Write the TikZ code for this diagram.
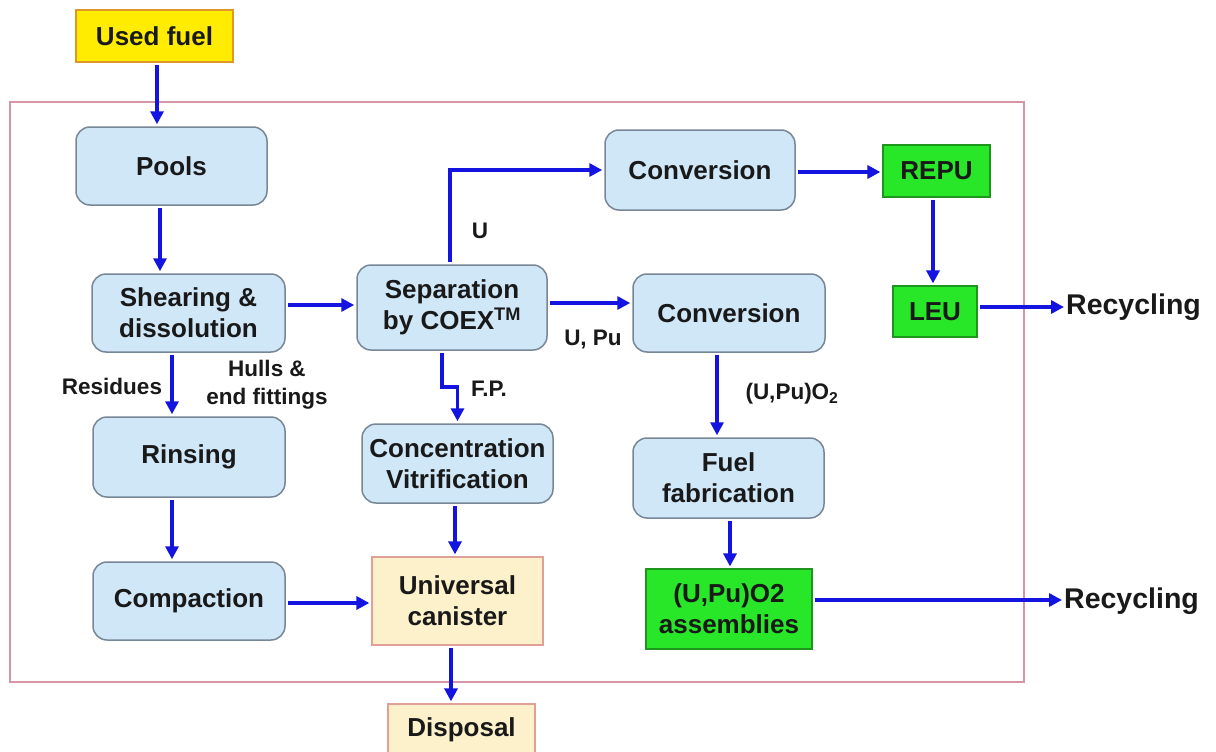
\documentclass[tikz,border=0pt]{standalone}
\usepackage{fontspec}
\setmainfont{Liberation Sans}
\usetikzlibrary{arrows.meta}
\definecolor{boxblue}{RGB}{208,231,248}
\definecolor{boxedge}{RGB}{120,135,150}
\definecolor{flowblue}{RGB}{20,20,225}
\definecolor{framepink}{RGB}{212,150,165}
\definecolor{prodgreen}{RGB}{40,230,40}
\definecolor{greenedge}{RGB}{30,150,30}
\definecolor{fuelyellow}{RGB}{255,236,0}
\definecolor{fueledge}{RGB}{225,150,40}
\definecolor{cream}{RGB}{253,241,204}
\definecolor{creamedge}{RGB}{225,160,150}
\definecolor{inkdark}{RGB}{25,25,25}
\tikzset{
  x=1pt, y=-1pt,
  every node/.style={text=inkdark, font=\bfseries\fontsize{26}{31}\selectfont, align=center, inner sep=0pt},
  process/.style={draw=boxedge, line width=1.5pt, fill=boxblue, rounded corners=14pt},
  product/.style={draw=greenedge, line width=1.2pt, fill=prodgreen},
  waste/.style={draw=creamedge, line width=1.2pt, fill=cream},
  feed/.style={draw=fueledge, line width=1.2pt, fill=fuelyellow},
  outtext/.style={font=\bfseries\fontsize{28.5}{32}\selectfont},
  flowlabel/.style={font=\bfseries\fontsize{22.5}{28}\selectfont},
  arr/.style={draw=flowblue, line width=3.6pt,
    -{Triangle[length=13pt,width=13pt]}, shorten <=2pt, shorten >=2pt},
}
\begin{document}
\begin{tikzpicture}
\useasboundingbox (0,0) rectangle (1216,752);
\fill[white] (0,0) rectangle (1216,752);

% plant boundary
\draw[framepink, line width=1.8pt] (10,102) rectangle (1024,682);

% feed and head-end
\node[feed, minimum width=157pt, minimum height=52pt] (fuel) at (154.5,36) {Used fuel};
\node[process, minimum width=191pt, minimum height=78pt] (pools) at (171.5,166) {Pools};
\node[process, minimum width=193pt, minimum height=78pt] (shear) at (188.5,313) {Shearing \&\\dissolution};
\node[process, minimum width=192pt, minimum height=80pt] (rinse) at (189,457) {Rinsing};
\node[process, minimum width=192pt, minimum height=78pt] (compact) at (189,601) {Compaction};

% separation and waste conditioning
\node[process, minimum width=190pt, minimum height=85pt] (sep) at (452,307.5) {Separation\\by COEX\textsuperscript{TM}};
\node[process, minimum width=191pt, minimum height=79pt] (conc) at (457.5,463.5) {Concentration\\Vitrification};
\node[waste, minimum width=171pt, minimum height=88pt] (canister) at (457.5,601) {Universal\\canister};
\node[waste, minimum width=147pt, minimum height=52pt] (disposal) at (461.5,730) {Disposal};

% uranium and plutonium lines
\node[process, minimum width=190pt, minimum height=80pt] (conv1) at (700,170) {Conversion};
\node[process, minimum width=192pt, minimum height=78pt] (conv2) at (729,313) {Conversion};
\node[process, minimum width=191pt, minimum height=80pt] (fab) at (728.5,478) {Fuel\\fabrication};
\node[product, minimum width=107pt, minimum height=52pt] (repu) at (936.5,171) {REPU};
\node[product, minimum width=84pt, minimum height=51pt] (leu) at (935,311.5) {LEU};
\node[product, minimum width=166pt, minimum height=80pt] (assem) at (729,609) {(U,Pu)O2\\assemblies};

% outputs
\node[outtext, anchor=west] (rec1) at (1066,307) {Recycling};
\node[outtext, anchor=west] (rec2) at (1064,601) {Recycling};

% flow labels
\node[flowlabel] (lblu) at (480,231) {U};
\node[flowlabel] (lblupu) at (593,339) {U, Pu};
\node[flowlabel] (lblfp) at (489,389) {F.P.};
\node[flowlabel] (lblox) at (792,394) {(U,Pu)O$_{\mathbf 2}$};
\node[flowlabel] (lblres) at (112,386) {Residues};
\node[flowlabel] (lblhull) at (267,385) {Hulls \&\\end fittings};

% connectors
\draw[arr] ([xshift=2.5pt]fuel.south) -- ([xshift=2.5pt]fuel.south |- pools.north);
\draw[arr] ([xshift=-11.5pt]pools.south) -- ([xshift=-11.5pt]pools.south |- shear.north);
\draw[arr] ([xshift=-16.5pt]shear.south) -- ([xshift=-16.5pt]shear.south |- rinse.north);
\draw[arr] ([xshift=-17pt]rinse.south) -- ([xshift=-17pt]rinse.south |- compact.north);
\draw[arr] ([yshift=-2pt]compact.east) -- ([yshift=-2pt]compact.east -| canister.west);
\draw[arr] ([yshift=8pt]shear.east) -- ([yshift=8pt]shear.east -| sep.west);
\draw[arr] ([xshift=-2pt]sep.north) |- (conv1.west);
\draw[arr] ([yshift=4.5pt]sep.east) -- ([yshift=4.5pt]sep.east -| conv2.west);
\draw[arr, rounded corners=0pt] ([xshift=-10pt]sep.south) -- ++(0,36) -| (conc.north);
\draw[arr] ([xshift=-2.5pt]conc.south) -- ([xshift=-2.5pt]conc.south |- canister.north);
\draw[arr] ([xshift=-6.5pt]canister.south) -- ([xshift=-6.5pt]canister.south |- disposal.north);
\draw[arr] ([yshift=-2pt]conv1.east) -- ([yshift=-2pt]conv1.east -| repu.west);
\draw[arr] ([xshift=-3.5pt]repu.south) -- ([xshift=-3.5pt]repu.south |- leu.north);
\draw[arr] ([yshift=4.5pt]leu.east) -- ([yshift=4.5pt]leu.east -| rec1.west);
\draw[arr] ([xshift=-12pt]conv2.south) -- ([xshift=-12pt]conv2.south |- fab.north);
\draw[arr] ([xshift=1.5pt]fab.south) -- ([xshift=1.5pt]fab.south |- assem.north);
\draw[arr] ([yshift=9pt]assem.east) -- ([yshift=9pt]assem.east -| rec2.west);
\end{tikzpicture}
\end{document}
